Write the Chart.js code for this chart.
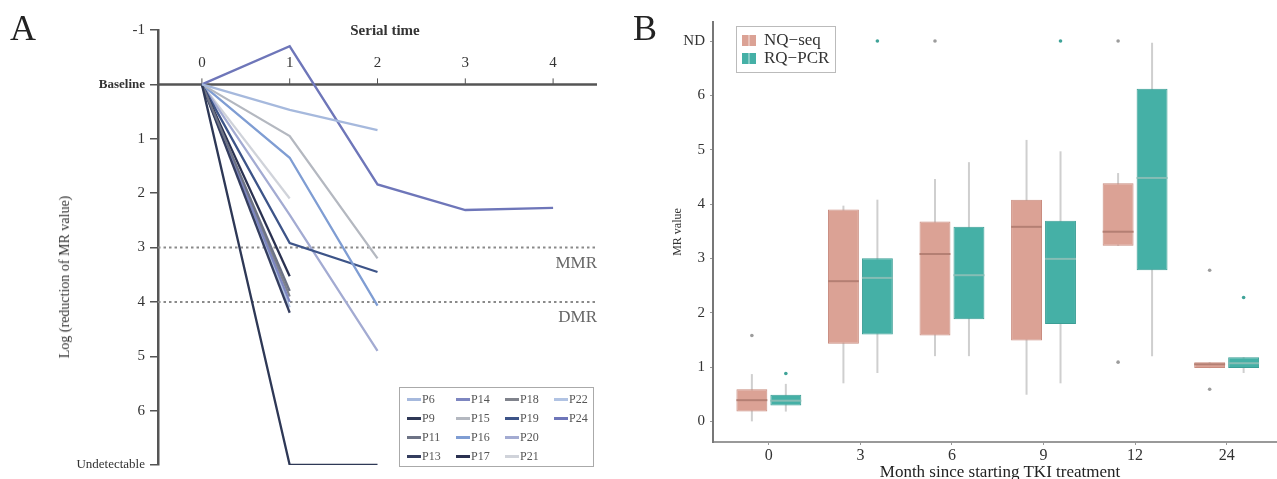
<!DOCTYPE html>
<html lang="en">
<head>
<meta charset="UTF-8">
<title>MR reduction over time and MR value box plot</title>
<script src="https://cdn.jsdelivr.net/npm/chart.js"></script>
<style>
    body {
        margin: 0;
        width: 1277px;
        height: 479px;
        overflow: hidden;
        background: #fff;
        position: relative;
        font-family: "Liberation Serif", "Times New Roman", serif;
        color: #333;
    }
    .wrap { position: absolute; top: 0; height: 479px; }
    #wrapA { left: 0; width: 620px; }
    #wrapB { left: 620px; width: 657px; }
    .letter { position: absolute; font-size: 36px; line-height: 36px; color: #222; }
    .txt { position: absolute; white-space: nowrap; line-height: 1; }
    #titleYA {
        left: 65px; top: 277px; font-size: 14px; color: #333;
        transform: translate(-50%, -50%) rotate(-90deg);
    }
    #titleXA { left: 385px; top: 23px; font-size: 15px; font-weight: bold; color: #333; transform: translateX(-50%); }
    #titleXB { left: 1000px; top: 463px; font-size: 17px; color: #222; transform: translateX(-50%); }
    #legendA {
        position: absolute; left: 399px; top: 387px; width: 195px; height: 80px;
        border: 1.5px solid #aaa; box-sizing: border-box; padding: 2px 0 0 7px;
        display: grid; grid-auto-flow: column; grid-template-rows: repeat(4, 19px);
        grid-template-columns: repeat(4, 49px);
    }
    #legendA .item { display: flex; align-items: center; font-size: 12px; color: #555; }
    #legendA .swatch { width: 14px; height: 3px; margin-right: 1px; }
    #legendB {
        position: absolute; left: 736px; top: 26px; width: 100px; height: 47px;
        border: 1.5px solid #bbb; box-sizing: border-box; padding: 4px 0 0 5px;
    }
    #legendB .item { display: flex; align-items: center; height: 18px; font-size: 17px; color: #333; }
    #legendB .glyph { position: relative; width: 14px; height: 11px; margin-right: 8px; }
    #legendB .glyph::after {
        content: ""; position: absolute; left: 6px; top: -3px; width: 2px; height: 17px;
        background: rgba(255,255,255,0.35);
    }
</style>
</head>
<body>
<div class="wrap" id="wrapA"><canvas id="chartA"></canvas></div>
<div class="wrap" id="wrapB"><canvas id="chartB"></canvas></div>
<div class="letter" style="left:10px; top:10px;">A</div>
<div class="letter" style="left:633px; top:10px;">B</div>
<div class="txt" id="titleYA">Log (reduction of MR value)</div>
<div class="txt" id="titleXA">Serial time</div>
<div class="txt" id="titleXB">Month since starting TKI treatment</div>
<div id="legendA"></div>
<div id="legendB"></div>

<script>
    // ---------- panel A: log reduction per patient ----------
    const serialTimes = [0, 1, 2, 3, 4];
    const yTicksA = [-1, 0, 1, 2, 3, 4, 5, 6, 7];
    const refValues = [3, 4];
    const refLabels = ['MMR', 'DMR'];

    const patientLabels = ['P6', 'P9', 'P11', 'P13', 'P14', 'P15', 'P16',
                           'P17', 'P18', 'P19', 'P20', 'P21', 'P22', 'P24'];
    const P6  = [0, 0.47, 0.84];
    const P9  = [0, 7, 7];
    const P11 = [0, 3.8];
    const P13 = [0, 4.2];
    const P14 = [0, 4.0];
    const P15 = [0, 0.95, 3.2];
    const P16 = [0, 1.35, 4.07];
    const P17 = [0, 3.53];
    const P18 = [0, 3.9];
    const P19 = [0, 2.92, 3.45];
    const P20 = [0, 2.4, 4.9];
    const P21 = [0, 2.1];
    const P22 = [0, 4.1];
    const P24 = [0, -0.7, 1.84, 2.31, 2.27];
    const patientSeries = [P6, P9, P11, P13, P14, P15, P16, P17, P18, P19, P20, P21, P22, P24];
    const patientColors = ['#a6b9dd', '#2e3856', '#6d7385', '#343d5e', '#7d86c0', '#b4b8c0', '#7f9dd3',
                           '#2a3150', '#80838c', '#3d5488', '#a3abd2', '#d0d3da', '#b1c3e3', '#6e76b9'];

    // ---------- panel B: MR value box plots ----------
    const monthLabels = ['0', '3', '6', '9', '12', '24'];
    const monthPos = [0, 1, 2, 3, 4, 5];
    const yTicksB = [0, 1, 2, 3, 4, 5, 6, 7];

    const nqQ1   = [0.18, 1.43, 1.58, 1.49, 3.23, 0.98];
    const nqQ3   = [0.59, 3.90, 3.68, 4.08, 4.38, 1.09];
    const nqMed  = [0.39, 2.58, 3.08, 3.58, 3.49, 1.05];
    const nqLow  = [0.00, 0.70, 1.20, 0.49, 3.23, 0.98];
    const nqHigh = [0.87, 3.97, 4.46, 5.18, 4.57, 1.09];
    const nqOut  = [[1.58], [], [7], [], [7, 1.09], [2.78, 0.59]];

    const rqQ1   = [0.29, 1.60, 1.88, 1.79, 2.78, 0.98];
    const rqQ3   = [0.49, 3.00, 3.58, 3.69, 6.12, 1.18];
    const rqMed  = [0.38, 2.64, 2.69, 2.99, 4.48, 1.07];
    const rqLow  = [0.18, 0.89, 1.20, 0.70, 1.20, 0.89];
    const rqHigh = [0.69, 4.08, 4.77, 4.97, 6.97, 1.18];
    const rqOut  = [[0.88], [7], [], [7], [], [2.28]];

    const serif = '"Liberation Serif", "Times New Roman", serif';

    // horizontal axis through Baseline, reference lines and their labels
    const panelAPlugin = {
        id: 'panelA',
        beforeDatasetsDraw(chart) {
            const { ctx, chartArea, scales: { x, y } } = chart;
            ctx.save();
            // dotted MMR / DMR lines
            ctx.strokeStyle = '#8a8a8a';
            ctx.lineWidth = 2;
            ctx.setLineDash([2.5, 3]);
            refValues.forEach(v => {
                const py = y.getPixelForValue(v);
                ctx.beginPath();
                ctx.moveTo(chartArea.left, py);
                ctx.lineTo(chartArea.right, py);
                ctx.stroke();
            });
            ctx.setLineDash([]);
            // baseline axis
            const by = y.getPixelForValue(0);
            ctx.strokeStyle = '#555';
            ctx.lineWidth = 2.5;
            ctx.beginPath();
            ctx.moveTo(chartArea.left, by);
            ctx.lineTo(chartArea.right, by);
            ctx.stroke();
            ctx.lineWidth = 1;
            ctx.fillStyle = '#333';
            ctx.font = '15px ' + serif;
            ctx.textAlign = 'center';
            ctx.textBaseline = 'middle';
            serialTimes.forEach(t => {
                const px = x.getPixelForValue(t);
                ctx.beginPath();
                ctx.moveTo(px, by - 6);
                ctx.lineTo(px, by);
                ctx.stroke();
                ctx.fillText(String(t), px, by - 21);
            });
            // labels for reference lines
            ctx.fillStyle = '#666';
            ctx.font = '17px ' + serif;
            ctx.textAlign = 'right';
            refValues.forEach((v, i) => {
                ctx.fillText(refLabels[i], chartArea.right, y.getPixelForValue(v) + 16);
            });
            ctx.restore();
        }
    };

    // whiskers, medians and outliers on top of the floating bars
    const boxPlugin = {
        id: 'boxExtras',
        beforeDatasetsDraw(chart) {
            const { ctx, scales: { y } } = chart;
            ctx.save();
            ctx.strokeStyle = '#cfcfcf';
            ctx.lineWidth = 2;
            chart.data.datasets.forEach((ds, i) => {
                chart.getDatasetMeta(i).data.forEach((bar, j) => {
                    ctx.beginPath();
                    ctx.moveTo(bar.x, y.getPixelForValue(ds.low[j]));
                    ctx.lineTo(bar.x, y.getPixelForValue(ds.high[j]));
                    ctx.stroke();
                });
            });
            ctx.restore();
        },
        afterDatasetsDraw(chart) {
            const { ctx, scales: { y } } = chart;
            ctx.save();
            chart.data.datasets.forEach((ds, i) => {
                chart.getDatasetMeta(i).data.forEach((bar, j) => {
                    const py = y.getPixelForValue(ds.med[j]);
                    ctx.strokeStyle = ds.medianColor;
                    ctx.lineWidth = 2;
                    ctx.beginPath();
                    ctx.moveTo(bar.x - bar.width / 2, py);
                    ctx.lineTo(bar.x + bar.width / 2, py);
                    ctx.stroke();
                    ctx.fillStyle = ds.outlierColor;
                    ds.out[j].forEach(v => {
                        ctx.beginPath();
                        ctx.arc(bar.x, y.getPixelForValue(v), 1.8, 0, Math.PI * 2);
                        ctx.fill();
                    });
                });
            });
            ctx.restore();
        }
    };

    function initChartA() {
        const datasets = patientSeries.map((series, i) => ({
            label: patientLabels[i],
            data: series.map((v, k) => ({ x: serialTimes[k], y: v })),
            borderColor: patientColors[i],
            backgroundColor: patientColors[i],
            borderWidth: 2.3,
            pointRadius: 0,
            tension: 0,
            fill: false
        }));

        return new Chart(document.getElementById('chartA'), {
            type: 'line',
            data: { datasets },
            options: {
                responsive: true,
                maintainAspectRatio: false,
                animation: false,
                layout: { autoPadding: false, padding: { left: 0, top: 30, right: 23, bottom: 7 } },
                plugins: { legend: { display: false }, tooltip: { enabled: false } },
                scales: {
                    x: { type: 'linear', min: -0.5, max: 4.5, display: false },
                    y: {
                        type: 'linear',
                        reverse: true,
                        min: -1,
                        max: 7,
                        afterBuildTicks: scale => { scale.ticks = yTicksA.map(v => ({ value: v })); },
                        afterFit: scale => { scale.width = 158; },
                        border: { color: '#555', width: 2.5 },
                        grid: { drawOnChartArea: false, tickLength: 8, color: '#555', lineWidth: 1.5 },
                        ticks: {
                            padding: 5,
                            color: '#333',
                            font: c => {
                                const v = c.tick && c.tick.value;
                                if (v === 0) return { family: serif, size: 13, weight: 'bold' };
                                if (v === 7) return { family: serif, size: 13 };
                                return { family: serif, size: 15 };
                            },
                            callback: v => v === 0 ? 'Baseline' : (v === 7 ? 'Undetectable' : v)
                        }
                    }
                }
            },
            plugins: [panelAPlugin]
        });
    }

    function initChartB() {
        const makeSet = (label, q1, q3, med, low, high, out, fill, edge, medColor, outColor) => ({
            label,
            data: monthPos.map((p, j) => ({ x: p, y: [q1[j], q3[j]] })),
            backgroundColor: fill,
            borderColor: edge,
            borderWidth: 1,
            borderSkipped: false,
            med, low, high, out,
            medianColor: medColor,
            outlierColor: outColor
        });

        return new Chart(document.getElementById('chartB'), {
            type: 'bar',
            data: {
                datasets: [
                    makeSet('NQ\u2212seq', nqQ1, nqQ3, nqMed, nqLow, nqHigh, nqOut,
                            '#dba295', '#c98c7f', '#b47f73', '#9c9c9c'),
                    makeSet('RQ\u2212PCR', rqQ1, rqQ3, rqMed, rqLow, rqHigh, rqOut,
                            '#45b0a6', '#3b9e95', '#86bdb5', '#3fa398')
                ]
            },
            options: {
                responsive: true,
                maintainAspectRatio: false,
                animation: false,
                categoryPercentage: 0.742,
                barPercentage: 0.91,
                layout: { autoPadding: false, padding: { left: 0, top: 22, right: 0, bottom: 0 } },
                plugins: { legend: { display: false }, tooltip: { enabled: false } },
                scales: {
                    x: {
                        type: 'linear',
                        min: -0.61,
                        max: 5.55,
                        offset: false,
                        afterBuildTicks: scale => { scale.ticks = monthPos.map(v => ({ value: v })); },
                        afterFit: scale => { scale.height = 37; },
                        border: { color: '#999', width: 2 },
                        grid: { offset: false, drawOnChartArea: false, tickLength: 3, color: '#999' },
                        ticks: {
                            padding: 1,
                            color: '#333',
                            font: { family: serif, size: 16 },
                            callback: v => monthLabels[v]
                        }
                    },
                    y: {
                        type: 'linear',
                        min: -0.38,
                        max: 7.35,
                        afterBuildTicks: scale => { scale.ticks = yTicksB.map(v => ({ value: v })); },
                        afterFit: scale => { scale.width = 93; },
                        border: { color: '#777', width: 2 },
                        grid: { drawOnChartArea: false, tickLength: 3, color: '#999' },
                        title: {
                            display: true,
                            text: 'MR value',
                            color: '#333',
                            font: { family: serif, size: 12 },
                            padding: { top: 51, bottom: 0 }
                        },
                        ticks: {
                            padding: 5,
                            color: '#333',
                            font: { family: serif, size: 15 },
                            callback: v => v === 7 ? 'ND' : v
                        }
                    }
                }
            },
            plugins: [boxPlugin]
        });
    }

    function buildLegendA(chart) {
        const box = document.getElementById('legendA');
        chart.data.datasets.forEach(ds => {
            const item = document.createElement('div');
            item.className = 'item';
            const sw = document.createElement('span');
            sw.className = 'swatch';
            sw.style.background = ds.borderColor;
            item.appendChild(sw);
            item.appendChild(document.createTextNode(ds.label));
            box.appendChild(item);
        });
    }

    function buildLegendB(chart) {
        const box = document.getElementById('legendB');
        chart.data.datasets.forEach(ds => {
            const item = document.createElement('div');
            item.className = 'item';
            const g = document.createElement('span');
            g.className = 'glyph';
            g.style.background = ds.backgroundColor;
            item.appendChild(g);
            item.appendChild(document.createTextNode(ds.label));
            box.appendChild(item);
        });
    }

    const chartA = initChartA();
    const chartB = initChartB();
    buildLegendA(chartA);
    buildLegendB(chartB);
</script>
</body>
</html>
